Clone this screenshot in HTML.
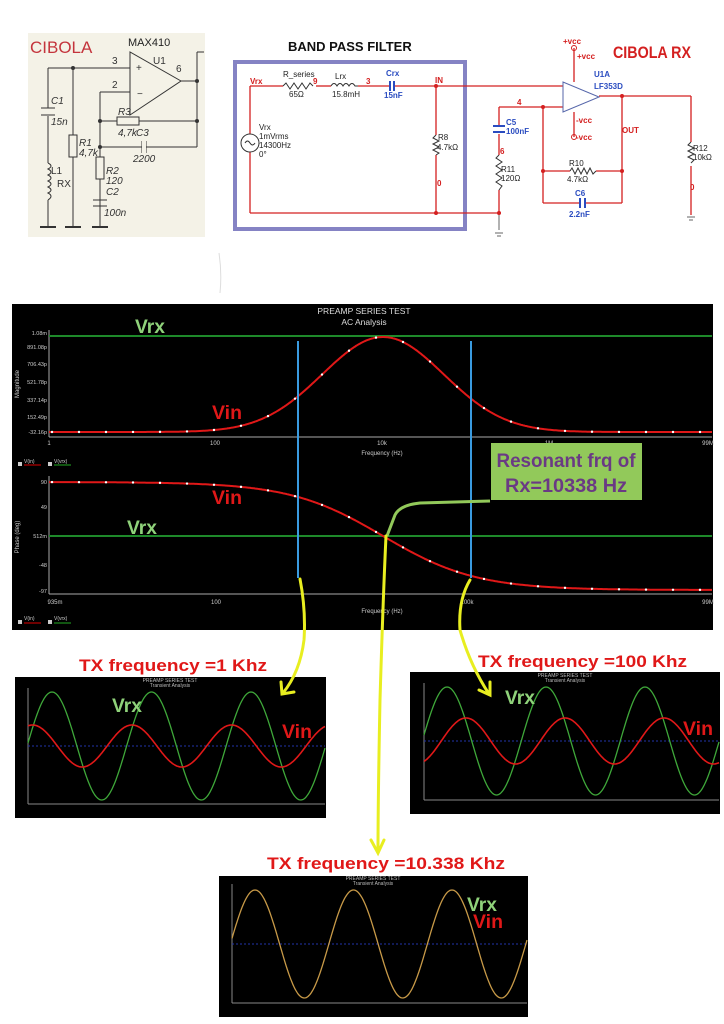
<!DOCTYPE html>
<html><head><meta charset="utf-8"><style>
html,body{margin:0;padding:0;background:#fff;}
svg{display:block;font-family:"Liberation Sans",sans-serif;}
</style></head><body>
<svg id="s" width="724" height="1024" viewBox="0 0 724 1024" xmlns="http://www.w3.org/2000/svg">
<rect width="724" height="1024" fill="#fff"/>
<rect x="28" y="33" width="177" height="204" fill="#f4f2e7"/>
<text x="30" y="53" font-size="17" fill="#c4343c">CIBOLA</text>
<text x="128" y="46" font-size="11" fill="#222">MAX410</text>
<g stroke="#333" stroke-width="1" fill="none">
<polygon points="130,52 130,115 181,81" fill="#f4f2e7"/>
<line x1="48" y1="68" x2="130" y2="68"/><line x1="100" y1="92" x2="130" y2="92"/>
<line x1="181" y1="81" x2="197" y2="81"/><line x1="197" y1="52" x2="197" y2="147"/><line x1="197" y1="52" x2="204" y2="52"/>
<line x1="48" y1="68" x2="48" y2="108"/><line x1="48" y1="116" x2="48" y2="163"/><line x1="48" y1="200" x2="48" y2="227"/>
<path d="M48 163 q6 3 0 6 q6 3 0 6 q6 3 0 6 q6 3 0 6 q6 3 0 6 q6 3 0 7"/>
<line x1="41" y1="108" x2="55" y2="108"/><line x1="41" y1="115" x2="55" y2="115"/>
<line x1="73" y1="68" x2="73" y2="227"/><rect x="69" y="135" width="8" height="22" fill="#f4f2e7"/>
<line x1="100" y1="92" x2="100" y2="227"/><rect x="96" y="157" width="8" height="22" fill="#f4f2e7"/>
<line x1="93" y1="200" x2="107" y2="200"/><line x1="93" y1="206" x2="107" y2="206"/>
<line x1="100" y1="121" x2="197" y2="121"/><rect x="117" y="117" width="22" height="8" fill="#f4f2e7"/>
<line x1="100" y1="147" x2="197" y2="147"/>
<line x1="142" y1="141" x2="142" y2="153"/><line x1="146" y1="141" x2="146" y2="153"/>
<rect x="142" y="140" width="4" height="14" fill="#f4f2e7" stroke="none"/>
<line x1="40" y1="227" x2="56" y2="227" stroke-width="2"/><line x1="65" y1="227" x2="81" y2="227" stroke-width="2"/><line x1="92" y1="227" x2="108" y2="227" stroke-width="2"/>
</g>
<g fill="#333" font-size="10" font-style="italic">
<circle cx="73" cy="68" r="2"/><circle cx="197" cy="81" r="2"/><circle cx="100" cy="121" r="2"/><circle cx="197" cy="121" r="2"/><circle cx="100" cy="147" r="2"/>
<text x="112" y="64" font-style="normal">3</text><text x="112" y="88" font-style="normal">2</text><text x="153" y="64" font-style="normal">U1</text><text x="176" y="72" font-style="normal">6</text>
<text x="136" y="71" font-style="normal">+</text><text x="137" y="97" font-style="normal">−</text>
<text x="51" y="104">C1</text><text x="51" y="125">15n</text><text x="79" y="146">R1</text><text x="79" y="156">4,7k</text>
<text x="51" y="174" font-style="normal">L1</text><text x="57" y="187" font-style="normal">RX</text>
<text x="118" y="115">R3</text><text x="118" y="136">4,7k</text><text x="136" y="136">C3</text><text x="133" y="162">2200</text>
<text x="106" y="174">R2</text><text x="106" y="184">120</text><text x="106" y="195">C2</text><text x="104" y="216">100n</text>
</g>
<text x="288" y="51" font-size="13" font-weight="bold" fill="#111">BAND PASS FILTER</text>
<rect x="235" y="62" width="230" height="167" fill="none" stroke="#8583c4" stroke-width="4"/>
<g stroke="#d42020" stroke-width="1.3" fill="none">
<line x1="250" y1="86" x2="283" y2="86"/><line x1="316" y1="86" x2="331" y2="86"/><line x1="358" y1="86" x2="390" y2="86"/><line x1="394" y1="86" x2="563" y2="86"/>
<line x1="250" y1="86" x2="250" y2="134"/><line x1="250" y1="152" x2="250" y2="213"/><line x1="250" y1="213" x2="501" y2="213"/>
<line x1="436" y1="86" x2="436" y2="135"/><line x1="436" y1="155" x2="436" y2="213"/>
<line x1="499" y1="107" x2="563" y2="107"/><line x1="499" y1="107" x2="499" y2="126"/><line x1="499" y1="134" x2="499" y2="155"/><line x1="499" y1="190" x2="499" y2="213"/>
<line x1="543" y1="107" x2="543" y2="203"/><line x1="543" y1="171" x2="570" y2="171"/><line x1="596" y1="171" x2="622" y2="171"/>
<line x1="543" y1="203" x2="580" y2="203"/><line x1="585" y1="203" x2="622" y2="203"/>
<line x1="599" y1="96" x2="691" y2="96"/><line x1="622" y1="96" x2="622" y2="203"/><line x1="691" y1="96" x2="691" y2="142"/><line x1="691" y1="166" x2="691" y2="215"/>
<line x1="574" y1="48" x2="574" y2="82"/><line x1="574" y1="112" x2="574" y2="137"/>
</g>
<g stroke="#333" stroke-width="1" fill="none">
<path d="M283 86 l3 -3 l4 6 l4 -6 l4 6 l4 -6 l4 6 l4 -6 l3 3"/>
<path d="M331 86 q3 -5 6 0 q3 -5 6 0 q3 -5 6 0 q3 -5 6 0 l3 0"/>
<path d="M436 135 l-3 3 l6 3 l-6 3 l6 3 l-6 3 l6 3 l-3 2"/>
<path d="M499 155 l-3 3 l6 4 l-6 4 l6 4 l-6 4 l6 4 l-6 4 l6 4 l-3 4"/>
<path d="M691 142 l-3 3 l6 3 l-6 3 l6 3 l-6 3 l6 3 l-3 3"/>
<path d="M570 171 l2 -3 l3 6 l3 -6 l3 6 l3 -6 l3 6 l3 -6 l3 6 l3 -3"/>
<circle cx="250" cy="143" r="9"/><path d="M245 143 q2.5 -4 5 0 q2.5 4 5 0"/>
<polygon points="563,82 563,112 599,97" stroke="#5566aa" fill="#fff"/>
<path d="M495 233 h8 M497 236 h4 M499 230 v-17" stroke="#666"/>
<path d="M687 217 h8 M689 220 h4" stroke="#666"/>
</g>
<g stroke="#2a4cc0" stroke-width="2"><line x1="390" y1="81" x2="390" y2="91"/><line x1="394" y1="81" x2="394" y2="91"/>
<line x1="493" y1="126" x2="505" y2="126"/><line x1="493" y1="132" x2="505" y2="132"/><line x1="580" y1="198" x2="580" y2="208"/><line x1="585" y1="198" x2="585" y2="208"/></g>
<g fill="#d42020"><circle cx="436" cy="86" r="2"/><circle cx="436" cy="213" r="2"/><circle cx="499" cy="213" r="2"/><circle cx="543" cy="107" r="2"/><circle cx="543" cy="171" r="2"/><circle cx="622" cy="96" r="2"/><circle cx="622" cy="171" r="2"/>
<circle cx="574" cy="48" r="2.5" fill="none" stroke="#d42020"/><circle cx="574" cy="137" r="2.5" fill="none" stroke="#d42020"/></g>
<g font-size="8" font-weight="bold" fill="#d42020">
<text x="250" y="84">Vrx</text><text x="313" y="84">9</text><text x="366" y="84">3</text><text x="435" y="83">IN</text><text x="517" y="105">4</text><text x="500" y="154">6</text><text x="437" y="186">0</text><text x="690" y="190">0</text><text x="622" y="133">OUT</text>
<text x="563" y="44">+vcc</text><text x="577" y="59">+vcc</text><text x="576" y="123">-vcc</text><text x="576" y="140">-vcc</text>
</g>
<g font-size="8" fill="#222">
<text x="283" y="77">R_series</text><text x="289" y="97">65Ω</text><text x="335" y="79">Lrx</text><text x="332" y="97">15.8mH</text>
<text x="259" y="130">Vrx</text><text x="259" y="139">1mVrms</text><text x="259" y="148">14300Hz</text><text x="259" y="157">0°</text>
<text x="438" y="140">R8</text><text x="437" y="150">4.7kΩ</text><text x="501" y="172">R11</text><text x="501" y="181">120Ω</text>
<text x="569" y="166">R10</text><text x="567" y="182">4.7kΩ</text><text x="693" y="151">R12</text><text x="693" y="160">10kΩ</text>
<text x="594" y="77" font-weight="bold" fill="#2a4cc0">U1A</text><text x="594" y="89" font-weight="bold" fill="#2a4cc0">LF353D</text>
</g>
<g font-size="8" font-weight="bold" fill="#2a4cc0"><text x="386" y="76">Crx</text><text x="384" y="98">15nF</text><text x="506" y="125">C5</text><text x="506" y="134">100nF</text><text x="575" y="196">C6</text><text x="569" y="217">2.2nF</text></g>
<text x="613" y="58" font-size="17" font-weight="bold" fill="#d42020" textLength="78" lengthAdjust="spacingAndGlyphs">CIBOLA RX</text>
<path d="M219 253 q3 20 1 40" stroke="#ddd" fill="none"/>
<rect x="12" y="304" width="701" height="326" fill="#000"/>
<text x="364" y="314" font-size="8.5" fill="#ddd" text-anchor="middle">PREAMP SERIES TEST</text>
<text x="364" y="325" font-size="8.5" fill="#ddd" text-anchor="middle">AC Analysis</text>
<g stroke="#aaa" stroke-width="1"><line x1="49" y1="330" x2="49" y2="437"/><line x1="49" y1="437" x2="712" y2="437"/><line x1="49" y1="476" x2="49" y2="594"/><line x1="49" y1="594" x2="712" y2="594"/></g>
<g font-size="5.5" fill="#ccc" text-anchor="end"><text x="47" y="335">1.08m</text><text x="47" y="349">891.08p</text><text x="47" y="366">706.43p</text><text x="47" y="384">521.78p</text><text x="47" y="402">337.14p</text><text x="47" y="419">152.49p</text><text x="47" y="434">-32.16p</text>
<text x="47" y="484">90</text><text x="47" y="509">49</text><text x="47" y="538">512m</text><text x="47" y="567">-48</text><text x="47" y="593">-97</text></g>
<g font-size="6" fill="#ccc" text-anchor="middle"><text x="49" y="445">1</text><text x="215" y="445">100</text><text x="382" y="445">10k</text><text x="549" y="445">1M</text><text x="708" y="445">99M</text>
<text x="55" y="604">935m</text><text x="216" y="604">100</text><text x="467" y="604">100k</text><text x="708" y="604">99M</text>
<text x="382" y="455">Frequency (Hz)</text><text x="382" y="613">Frequency (Hz)</text></g>
<text x="19" y="384" font-size="6" fill="#ccc" transform="rotate(-90 19 384)" text-anchor="middle">Magnitude</text>
<text x="19" y="537" font-size="6" fill="#ccc" transform="rotate(-90 19 537)" text-anchor="middle">Phase (deg)</text>
<g font-size="5" fill="#ccc"><rect x="18" y="462" width="4" height="4" fill="#ccc"/><text x="24" y="463">V(in)</text><line x1="24" y1="465" x2="41" y2="465" stroke="#d00"/><rect x="48" y="462" width="4" height="4" fill="#ccc"/><text x="54" y="463">V(vrx)</text><line x1="54" y1="465" x2="71" y2="465" stroke="#2a2"/>
<rect x="18" y="620" width="4" height="4" fill="#ccc"/><text x="24" y="620">V(in)</text><line x1="24" y1="623" x2="41" y2="623" stroke="#d00"/><rect x="48" y="620" width="4" height="4" fill="#ccc"/><text x="54" y="620">V(vrx)</text><line x1="54" y1="623" x2="71" y2="623" stroke="#2a2"/></g>
<line x1="49" y1="336" x2="712" y2="336" stroke="#1e8a2a" stroke-width="2"/>
<line x1="49" y1="536" x2="712" y2="536" stroke="#1e8a2a" stroke-width="2"/>
<path id="bell" fill="none" stroke="#e01818" stroke-width="2"/>
<path id="sig" fill="none" stroke="#e01818" stroke-width="2"/>
<g id="marks" fill="#fff"></g>
<line x1="298" y1="341" x2="298" y2="578" stroke="#3a9be0" stroke-width="2"/>
<line x1="471" y1="341" x2="471" y2="578" stroke="#3a9be0" stroke-width="2"/>
<path d="M490 501 L420 503 Q400 505 395 515 Q390 528 387 536" fill="none" stroke="#92c95a" stroke-width="3"/>
<rect x="491" y="443" width="151" height="57" fill="#92c95a"/>
<text x="566" y="467" font-size="19" font-weight="bold" fill="#6a3a84" text-anchor="middle" textLength="139" lengthAdjust="spacingAndGlyphs">Resonant frq of</text>
<text x="566" y="492" font-size="19" font-weight="bold" fill="#6a3a84" text-anchor="middle" textLength="122" lengthAdjust="spacingAndGlyphs">Rx=10338 Hz</text>
<g font-size="19" font-weight="bold">
<text x="135" y="333" fill="#8fd27a" textLength="30" lengthAdjust="spacingAndGlyphs">Vrx</text>
<text x="212" y="419" fill="#e01818" textLength="30" lengthAdjust="spacingAndGlyphs">Vin</text>
<text x="212" y="504" fill="#e01818" textLength="30" lengthAdjust="spacingAndGlyphs">Vin</text>
<text x="127" y="534" fill="#8fd27a" textLength="30" lengthAdjust="spacingAndGlyphs">Vrx</text>
</g>
<g font-size="17" font-weight="bold" fill="#e01818">
<text x="79" y="671" textLength="188" lengthAdjust="spacingAndGlyphs">TX frequency =1 Khz</text>
<text x="478" y="667" textLength="209" lengthAdjust="spacingAndGlyphs">TX frequency =100 Khz</text>
<text x="267" y="869" textLength="238" lengthAdjust="spacingAndGlyphs">TX frequency =10.338 Khz</text>
</g>
<rect x="15" y="677" width="311" height="141" fill="#000"/>
<rect x="410" y="672" width="310" height="142" fill="#000"/>
<rect x="219" y="876" width="309" height="141" fill="#000"/>
<g id="tr"></g>
<g font-size="5" fill="#bbb" text-anchor="middle"><text x="170" y="682">PREAMP SERIES TEST</text><text x="170" y="687">Transient Analysis</text>
<text x="565" y="677">PREAMP SERIES TEST</text><text x="565" y="682">Transient Analysis</text>
<text x="373" y="880">PREAMP SERIES TEST</text><text x="373" y="885">Transient Analysis</text></g>
<g font-size="19" font-weight="bold">
<text x="112" y="712" fill="#8fd27a" textLength="30" lengthAdjust="spacingAndGlyphs">Vrx</text>
<text x="282" y="738" fill="#e01818" textLength="30" lengthAdjust="spacingAndGlyphs">Vin</text>
<text x="505" y="704" fill="#8fd27a" textLength="30" lengthAdjust="spacingAndGlyphs">Vrx</text>
<text x="683" y="735" fill="#e01818" textLength="30" lengthAdjust="spacingAndGlyphs">Vin</text>
<text x="467" y="911" fill="#8fd27a" textLength="30" lengthAdjust="spacingAndGlyphs">Vrx</text>
<text x="473" y="928" fill="#e01818" textLength="30" lengthAdjust="spacingAndGlyphs">Vin</text>
</g>
<g fill="none" stroke="#e8ee20" stroke-width="3" stroke-linecap="round">
<path d="M300 579 Q306 610 304 640 Q300 672 283 693"/><path d="M281 682 L282 694 L294 692"/>
<path d="M386 536 Q383 600 380 700 Q378 800 378 852"/><path d="M371 840 L378 853 L384 840"/>
<path d="M470 580 Q458 600 460 630 Q470 665 489 694"/><path d="M490 682 L490 695 L479 690"/>
</g>
</svg>
<script>
(function(){
var NS="http://www.w3.org/2000/svg";
function P(f,a,b){var d="";for(var x=a;x<=b;x+=1){d+=(x==a?"M":"L")+x+" "+f(x).toFixed(1)+" ";}return d;}
var bell=function(x){return 432-95*Math.exp(-Math.pow((x-383)/86,2));};
var sig=function(x){return 536+54*Math.tanh((x-383)/93);};
document.getElementById("bell").setAttribute("d",P(bell,49,712));
document.getElementById("sig").setAttribute("d",P(sig,49,712));
var m=document.getElementById("marks");
for(var x=52;x<712;x+=27){[bell,sig].forEach(function(f){var c=document.createElementNS(NS,"circle");c.setAttribute("cx",x);c.setAttribute("cy",f(x));c.setAttribute("r",1.2);m.appendChild(c);});}
var tr=document.getElementById("tr");
function add(d,col,w){var p=document.createElementNS(NS,"path");p.setAttribute("d",d);p.setAttribute("stroke",col);p.setAttribute("stroke-width",w);p.setAttribute("fill","none");tr.appendChild(p);}
function line(x1,y1,x2,y2,col,dash){var l=document.createElementNS(NS,"line");l.setAttribute("x1",x1);l.setAttribute("y1",y1);l.setAttribute("x2",x2);l.setAttribute("y2",y2);l.setAttribute("stroke",col);if(dash)l.setAttribute("stroke-dasharray",dash);tr.appendChild(l);}
function panel(x0,x1,yt,yb,cy,amp,pk,per,ramp,rpk,both){
 line(x0,yt,x0,yb,"#888");line(x0,yb,x1,yb,"#888");
 line(x0,cy,x1,cy,"#2233aa","2 2");
 var g=function(x){return cy-amp*Math.cos(2*Math.PI*(x-pk)/per);};
 if(both){add(P(g,x0,x1),"#c89a48",1.3);return;}
 add(P(g,x0,x1),"#3fa83a",1.3);
 var r=function(x){return cy-ramp*Math.cos(2*Math.PI*(x-rpk)/per);};
 add(P(r,x0,x1),"#e01818",1.6);
}
panel(28,325,688,804,746,54,52,99.5,21,132,false);
panel(424,719,683,800,741,54,447,99,23,466,false);
panel(232,527,884,1003,944,54,255,98.5,0,0,true);
})();
</script>
</body></html>
